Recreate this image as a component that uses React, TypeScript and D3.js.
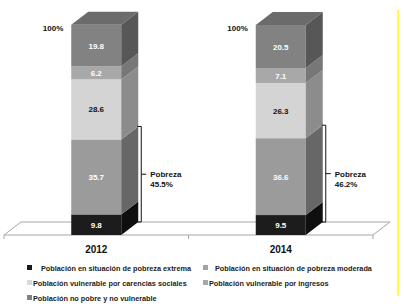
import React from "react";
import * as d3 from "d3";

const years = ["2012", "2014"];
const seriesNames = [
  "Población en situación de pobreza extrema",
  "Población en situación de pobreza moderada",
  "Población vulnerable por carencias sociales",
  "Población vulnerable por ingresos",
  "Población no pobre y no vulnerable",
];
const extrema = [9.8, 9.5];
const moderada = [35.7, 36.6];
const carencias = [28.6, 26.3];
const ingresos = [6.2, 7.1];
const noPobre = [19.8, 20.5];
const pobrezaTotal = ["45.5%", "46.2%"];

const frontColors = ["#1c1c1c", "#9b9b9b", "#d4d4d4", "#a8a8a8", "#828282"];
const sideColors = ["#0f0f0f", "#676767", "#8c8c8c", "#777777", "#575757"];
const legendColors = ["#1a1a1a", "#a3a3a3", "#d9d9d9", "#a8a8a8", "#828282"];
const labelColors = ["#ffffff", "#ffffff", "#111111", "#ffffff", "#ffffff"];

const W = 404;
const H = 307;
const DX = 17;
const DY = 13;
const BAR_W = 50;
const FONT = "'Liberation Sans', Arial, sans-serif";

export default function App() {
  const series = [extrema, moderada, carencias, ingresos, noPobre];
  const x = d3.scaleBand<string>().domain(years).range([4, 373]);
  const y = d3.scaleLinear().domain([0, 100]).range([235, 25]);
  const y0 = y(0);
  const [fl, fr] = x.range();

  const stackData = years.map((yr, i) => {
    const row: any = { year: yr };
    series.forEach((s, k) => (row["s" + k] = s[i]));
    return row;
  });
  const stack = d3.stack<any>().keys(series.map((_, k) => "s" + k));
  const stacked = stack(stackData);

  const legendPos = [
    { x: 27, y: 268, tx: 41 },
    { x: 203, y: 268, tx: 215 },
    { x: 27, y: 283, tx: 33 },
    { x: 203, y: 283, tx: 209 },
    { x: 27, y: 298, tx: 33 },
  ];

  return (
    <svg width={W} height={H} style={{ position: "absolute", left: 0, top: 0, background: "#fff" }}>
      {/* floor */}
      <path
        d={`M${fl},${y0} L${fl + DX},${y0 - DY} L${fr + DX},${y0 - DY} L${fr},${y0} Z`}
        fill="#ffffff"
        stroke="#a6a6a6"
        strokeWidth={1}
      />
      {[fl, (fl + fr) / 2, fr].map((t, i) => (
        <line key={i} x1={t} x2={t} y1={y0} y2={y0 + 4} stroke="#a6a6a6" />
      ))}

      {years.map((yr, i) => {
        const xl = (x(yr) as number) + x.bandwidth() / 2 - BAR_W / 2;
        const xr = xl + BAR_W;
        const topY = y(stacked[stacked.length - 1][i][1]);
        return (
          <g key={yr}>
            {stacked.map((layer, k) => {
              const yb = y(layer[i][0]);
              const yt = y(layer[i][1]);
              return (
                <g key={k}>
                  <rect x={xl} y={yt} width={BAR_W} height={yb - yt} fill={frontColors[k]} />
                  <path
                    d={`M${xr},${yt} L${xr + DX},${yt - DY} L${xr + DX},${yb - DY} L${xr},${yb} Z`}
                    fill={sideColors[k]}
                  />
                  <text
                    x={xl + BAR_W / 2}
                    y={(yt + yb) / 2 + 3}
                    textAnchor="middle"
                    fontFamily={FONT}
                    fontWeight="bold"
                    fontSize={8}
                    fill={labelColors[k]}
                  >
                    {series[k][i].toFixed(1)}
                  </text>
                </g>
              );
            })}
            <path
              d={`M${xl},${topY} L${xl + DX},${topY - DY} L${xr + DX},${topY - DY} L${xr},${topY} Z`}
              fill="#6b6b6b"
            />
            <text
              x={xl - 8}
              y={topY + 6}
              textAnchor="end"
              fontFamily={FONT}
              fontWeight="bold"
              fontSize={8}
              fill="#111"
            >
              100%
            </text>
            {/* pobreza bracket */}
            {(() => {
              const bx = xr + DX + 3;
              const bTop = y(stacked[1][i][1]) - DY;
              const bBot = y0 - DY;
              const mid = (bTop + bBot) / 2;
              return (
                <g>
                  <path
                    d={`M${bx - 4},${bTop} L${bx},${bTop} L${bx},${bBot} L${bx - 4},${bBot}`}
                    fill="none"
                    stroke="#111"
                    strokeWidth={1}
                  />
                  <line x1={bx} x2={bx + 5} y1={mid} y2={mid} stroke="#111" />
                  <text x={bx + 9} y={mid + 3} fontFamily={FONT} fontWeight="bold" fontSize={8} fill="#111">
                    Pobreza
                  </text>
                  <text x={bx + 9} y={mid + 13} fontFamily={FONT} fontWeight="bold" fontSize={8} fill="#111">
                    {pobrezaTotal[i]}
                  </text>
                </g>
              );
            })()}
            <text
              x={xl + BAR_W / 2}
              y={253}
              textAnchor="middle"
              fontFamily={FONT}
              fontWeight="bold"
              fontSize={10}
              fill="#111"
            >
              {yr}
            </text>
          </g>
        );
      })}

      {/* legend */}
      {seriesNames.map((name, k) => {
        const p = legendPos[k];
        return (
          <g key={name}>
            <rect x={p.x} y={p.y - 3} width={5} height={5} fill={legendColors[k]} />
            <text x={p.tx} y={p.y + 2.5} fontFamily={FONT} fontSize={7.3} fontWeight="bold" fill="#222">
              {name}
            </text>
          </g>
        );
      })}

      {/* yellow edge line */}
      <line x1={398} x2={398} y1={10} y2={296} stroke="#ffff00" strokeWidth={1.5} />
    </svg>
  );
}
